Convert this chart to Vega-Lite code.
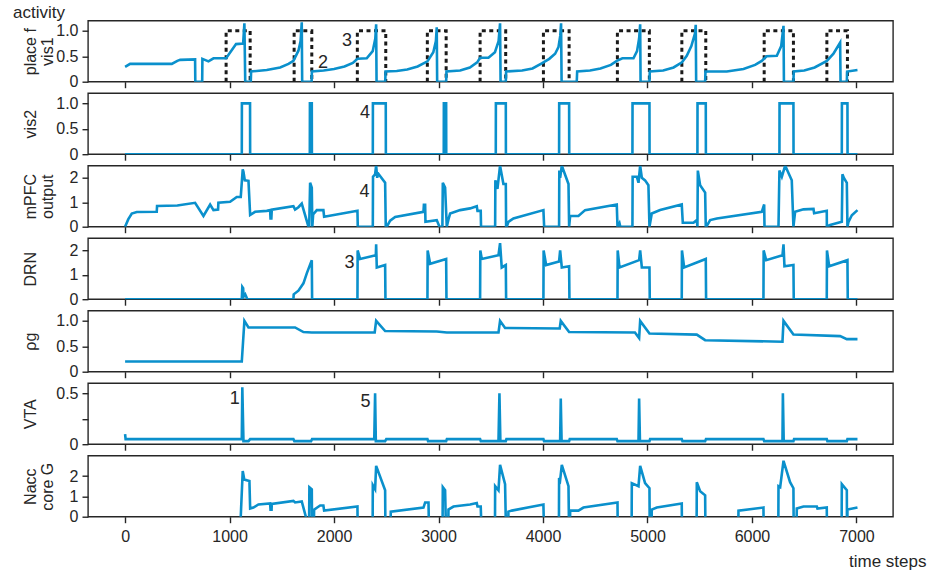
{
"$schema": "https://vega.github.io/schema/vega-lite/v6.json",
"autosize": "none",
"bounds": "flush",
"padding": {"left": 88, "top": 20.7, "right": 839, "bottom": 552.3},
"background": "white",
"config": {
  "font": "Liberation Sans",
  "view": {"stroke": "#262626", "strokeWidth": 1.4},
  "axis": {"grid": false, "domain": false, "tickColor": "#262626", "tickWidth": 1.4, "tickSize": 6, "labelFont": "Liberation Sans", "labelFontSize": 16, "labelColor": "#262626", "labelPadding": 4, "titleFont": "Liberation Sans", "titleFontSize": 16, "titleFontWeight": "normal", "titleColor": "#262626"},
  "axisY": {"titleAngle": -90, "titleX": -58, "titleY": 30.5, "titleAlign": "center", "titleBaseline": "middle", "titleLineHeight": 17},
  "line": {"color": "#0a90cc", "strokeWidth": 2.6},
  "text": {"fontSize": 18, "color": "#262626", "font": "Liberation Sans"}
},
"datasets": {
"vis1": [{"t":0,"v":0.29},{"t":48,"v":0.35},{"t":447,"v":0.35},{"t":500,"v":0.41},{"t":527,"v":0.43},{"t":670,"v":0.44},{"t":672,"v":0},{"t":738,"v":0},{"t":740,"v":0.45},{"t":798,"v":0.4},{"t":846,"v":0.46},{"t":967,"v":0.46},{"t":1062,"v":0.74},{"t":1130,"v":0.75},{"t":1142,"v":1.15},{"t":1150,"v":0},{"t":1203,"v":0},{"t":1206,"v":0.2},{"t":1356,"v":0.23},{"t":1484,"v":0.28},{"t":1564,"v":0.35},{"t":1611,"v":0.41},{"t":1659,"v":0.61},{"t":1680,"v":0.8},{"t":1691,"v":1.17},{"t":1695,"v":0},{"t":1785,"v":0},{"t":1788,"v":0.2},{"t":1900,"v":0.22},{"t":2000,"v":0.25},{"t":2100,"v":0.3},{"t":2180,"v":0.37},{"t":2224,"v":0.45},{"t":2313,"v":0.46},{"t":2370,"v":0.6},{"t":2395,"v":0.85},{"t":2403,"v":1.13},{"t":2407,"v":0},{"t":2490,"v":0},{"t":2493,"v":0.2},{"t":2600,"v":0.21},{"t":2700,"v":0.24},{"t":2800,"v":0.3},{"t":2894,"v":0.4},{"t":2950,"v":0.58},{"t":2975,"v":0.8},{"t":2983,"v":1.07},{"t":2987,"v":0},{"t":3073,"v":0},{"t":3076,"v":0.2},{"t":3207,"v":0.22},{"t":3300,"v":0.28},{"t":3370,"v":0.38},{"t":3398,"v":0.47},{"t":3478,"v":0.47},{"t":3540,"v":0.58},{"t":3575,"v":0.8},{"t":3589,"v":1.15},{"t":3594,"v":0},{"t":3644,"v":0},{"t":3647,"v":0.2},{"t":3800,"v":0.22},{"t":3900,"v":0.26},{"t":3988,"v":0.36},{"t":4060,"v":0.45},{"t":4116,"v":0.55},{"t":4148,"v":0.68},{"t":4165,"v":0.9},{"t":4173,"v":1.15},{"t":4178,"v":0},{"t":4323,"v":0},{"t":4327,"v":0.2},{"t":4450,"v":0.22},{"t":4550,"v":0.26},{"t":4650,"v":0.33},{"t":4706,"v":0.41},{"t":4760,"v":0.46},{"t":4866,"v":0.46},{"t":4900,"v":0.6},{"t":4920,"v":0.85},{"t":4930,"v":1.13},{"t":4934,"v":0},{"t":5019,"v":0},{"t":5022,"v":0.2},{"t":5150,"v":0.22},{"t":5250,"v":0.28},{"t":5330,"v":0.38},{"t":5376,"v":0.51},{"t":5420,"v":0.7},{"t":5455,"v":0.95},{"t":5462,"v":1.12},{"t":5466,"v":0},{"t":5552,"v":0},{"t":5555,"v":0.2},{"t":5759,"v":0.2},{"t":5919,"v":0.25},{"t":6030,"v":0.33},{"t":6094,"v":0.41},{"t":6140,"v":0.5},{"t":6238,"v":0.51},{"t":6280,"v":0.7},{"t":6302,"v":1.1},{"t":6306,"v":0},{"t":6397,"v":0},{"t":6400,"v":0.2},{"t":6500,"v":0.22},{"t":6600,"v":0.28},{"t":6717,"v":0.41},{"t":6780,"v":0.55},{"t":6844,"v":0.77},{"t":6848,"v":0},{"t":6908,"v":0},{"t":6911,"v":0.2},{"t":7010,"v":0.23}],
"vis2": [{"t":0,"v":0},{"t":1117,"v":0},{"t":1118,"v":1},{"t":1196,"v":1},{"t":1197,"v":0},{"t":1768,"v":0},{"t":1769,"v":1},{"t":1787,"v":1},{"t":1788,"v":0},{"t":2371,"v":0},{"t":2372,"v":1},{"t":2495,"v":1},{"t":2496,"v":0},{"t":3050,"v":0},{"t":3051,"v":1},{"t":3073,"v":1},{"t":3074,"v":0},{"t":3548,"v":0},{"t":3549,"v":1},{"t":3644,"v":1},{"t":3645,"v":0},{"t":4154,"v":0},{"t":4155,"v":1},{"t":4250,"v":1},{"t":4251,"v":0},{"t":4856,"v":0},{"t":4857,"v":1},{"t":5019,"v":1},{"t":5020,"v":0},{"t":5478,"v":0},{"t":5479,"v":1},{"t":5558,"v":1},{"t":5559,"v":0},{"t":6263,"v":0},{"t":6264,"v":1},{"t":6397,"v":1},{"t":6398,"v":0},{"t":6860,"v":0},{"t":6861,"v":1},{"t":6914,"v":1},{"t":6915,"v":0},{"t":7010,"v":0}],
"mpfc": [{"t":0,"v":0},{"t":30,"v":0.3},{"t":64,"v":0.54},{"t":112,"v":0.6},{"t":303,"v":0.61},{"t":306,"v":0.85},{"t":500,"v":0.87},{"t":670,"v":0.98},{"t":750,"v":0.44},{"t":814,"v":0.91},{"t":846,"v":0.68},{"t":890,"v":0.7},{"t":893,"v":0.98},{"t":1005,"v":1.02},{"t":1069,"v":1.22},{"t":1107,"v":1.22},{"t":1126,"v":2.35},{"t":1133,"v":2.25},{"t":1146,"v":1.9},{"t":1181,"v":1.88},{"t":1197,"v":0.48},{"t":1244,"v":0.61},{"t":1356,"v":0.65},{"t":1388,"v":0.68},{"t":1392,"v":0.34},{"t":1400,"v":0.34},{"t":1404,"v":0.7},{"t":1611,"v":0.84},{"t":1627,"v":0.7},{"t":1659,"v":0.8},{"t":1691,"v":0.95},{"t":1755,"v":0},{"t":1762,"v":0},{"t":1771,"v":1.8},{"t":1787,"v":1.6},{"t":1792,"v":0},{"t":1800,"v":0.5},{"t":1835,"v":0.68},{"t":1898,"v":0.68},{"t":1905,"v":0.41},{"t":2224,"v":0.65},{"t":2227,"v":0},{"t":2371,"v":0},{"t":2373,"v":2.05},{"t":2393,"v":2.15},{"t":2403,"v":2.5},{"t":2413,"v":2.0},{"t":2419,"v":2.2},{"t":2489,"v":1.8},{"t":2495,"v":0},{"t":2505,"v":0},{"t":2537,"v":0.25},{"t":2585,"v":0.4},{"t":2856,"v":0.61},{"t":2860,"v":0.9},{"t":2872,"v":0.9},{"t":2875,"v":0.2},{"t":2983,"v":0.27},{"t":3009,"v":0},{"t":3037,"v":0},{"t":3041,"v":1.8},{"t":3063,"v":1.6},{"t":3079,"v":0},{"t":3095,"v":0.3},{"t":3111,"v":0.54},{"t":3207,"v":0.68},{"t":3302,"v":0.75},{"t":3366,"v":0.84},{"t":3373,"v":0.65},{"t":3404,"v":0.65},{"t":3407,"v":0},{"t":3542,"v":0},{"t":3544,"v":1.9},{"t":3564,"v":1.55},{"t":3589,"v":2.5},{"t":3621,"v":1.75},{"t":3644,"v":1.75},{"t":3647,"v":0},{"t":3653,"v":0},{"t":3669,"v":0.2},{"t":3717,"v":0.34},{"t":4004,"v":0.68},{"t":4011,"v":0},{"t":4154,"v":0},{"t":4156,"v":2.3},{"t":4164,"v":2.0},{"t":4180,"v":2.5},{"t":4244,"v":1.75},{"t":4250,"v":0},{"t":4260,"v":0.44},{"t":4339,"v":0.44},{"t":4403,"v":0.68},{"t":4706,"v":0.91},{"t":4713,"v":0},{"t":4732,"v":0.15},{"t":4740,"v":0},{"t":4856,"v":0},{"t":4858,"v":2.05},{"t":4898,"v":2.05},{"t":4914,"v":1.8},{"t":4930,"v":2.5},{"t":4946,"v":2.0},{"t":4977,"v":1.9},{"t":5009,"v":1.7},{"t":5019,"v":0},{"t":5041,"v":0.54},{"t":5121,"v":0.68},{"t":5328,"v":0.91},{"t":5338,"v":0.16},{"t":5440,"v":0.16},{"t":5472,"v":0.27},{"t":5478,"v":0},{"t":5482,"v":2.3},{"t":5504,"v":1.7},{"t":5552,"v":1.4},{"t":5558,"v":0},{"t":5568,"v":0.03},{"t":5600,"v":0.27},{"t":5664,"v":0.34},{"t":6094,"v":0.61},{"t":6117,"v":0.91},{"t":6120,"v":0},{"t":6254,"v":0},{"t":6263,"v":2.3},{"t":6286,"v":2.05},{"t":6318,"v":2.5},{"t":6381,"v":1.9},{"t":6397,"v":0},{"t":6413,"v":0.61},{"t":6493,"v":0.71},{"t":6589,"v":0.73},{"t":6595,"v":0.55},{"t":6716,"v":0.65},{"t":6717,"v":0},{"t":6748,"v":0.07},{"t":6860,"v":0.2},{"t":6866,"v":2.15},{"t":6880,"v":2.0},{"t":6908,"v":1.8},{"t":6914,"v":0},{"t":6924,"v":0.2},{"t":6956,"v":0.47},{"t":7010,"v":0.68}],
"drn": [{"t":0,"v":0},{"t":1117,"v":0},{"t":1122,"v":0.5},{"t":1130,"v":0.45},{"t":1134,"v":0.1},{"t":1150,"v":0.2},{"t":1160,"v":0.1},{"t":1170,"v":0},{"t":1611,"v":0},{"t":1614,"v":0.2},{"t":1659,"v":0.35},{"t":1707,"v":0.65},{"t":1739,"v":1.06},{"t":1787,"v":1.6},{"t":1790,"v":0},{"t":2224,"v":0},{"t":2226,"v":2.0},{"t":2249,"v":1.65},{"t":2400,"v":1.8},{"t":2403,"v":2.25},{"t":2409,"v":1.3},{"t":2489,"v":1.4},{"t":2492,"v":0},{"t":2894,"v":0},{"t":2896,"v":2.0},{"t":2920,"v":1.45},{"t":3073,"v":1.65},{"t":3076,"v":0},{"t":3398,"v":0},{"t":3400,"v":2.0},{"t":3414,"v":1.65},{"t":3574,"v":1.8},{"t":3589,"v":2.3},{"t":3605,"v":1.3},{"t":3644,"v":1.4},{"t":3647,"v":0},{"t":4004,"v":0},{"t":4006,"v":2.0},{"t":4030,"v":1.4},{"t":4154,"v":1.55},{"t":4164,"v":2.0},{"t":4180,"v":1.3},{"t":4250,"v":1.35},{"t":4253,"v":0},{"t":4713,"v":0},{"t":4715,"v":2.0},{"t":4732,"v":1.3},{"t":4920,"v":1.6},{"t":4930,"v":2.0},{"t":4946,"v":1.3},{"t":5019,"v":1.3},{"t":5022,"v":0},{"t":5328,"v":0},{"t":5330,"v":2.0},{"t":5351,"v":1.3},{"t":5558,"v":1.65},{"t":5561,"v":0},{"t":6110,"v":0},{"t":6112,"v":2.0},{"t":6136,"v":1.6},{"t":6292,"v":1.8},{"t":6302,"v":2.25},{"t":6311,"v":1.35},{"t":6397,"v":1.4},{"t":6400,"v":0},{"t":6716,"v":0},{"t":6718,"v":2.0},{"t":6739,"v":1.35},{"t":6914,"v":1.6},{"t":6917,"v":0},{"t":7010,"v":0}],
"rho": [{"t":0,"v":0.2},{"t":1117,"v":0.2},{"t":1142,"v":1.0},{"t":1181,"v":0.87},{"t":1627,"v":0.87},{"t":1707,"v":0.78},{"t":1787,"v":0.77},{"t":2389,"v":0.77},{"t":2403,"v":1.0},{"t":2489,"v":0.8},{"t":2983,"v":0.79},{"t":3079,"v":0.77},{"t":3574,"v":0.77},{"t":3589,"v":1.0},{"t":3637,"v":0.86},{"t":4160,"v":0.85},{"t":4170,"v":1.0},{"t":4250,"v":0.78},{"t":4880,"v":0.77},{"t":4920,"v":0.66},{"t":4930,"v":1.0},{"t":5019,"v":0.75},{"t":5472,"v":0.73},{"t":5552,"v":0.62},{"t":6292,"v":0.59},{"t":6302,"v":1.0},{"t":6397,"v":0.73},{"t":6844,"v":0.7},{"t":6908,"v":0.64},{"t":7010,"v":0.64}],
"vta": [{"t":0,"v":0.1},{"t":5,"v":0.05},{"t":1117,"v":0.05},{"t":1122,"v":0.56},{"t":1133,"v":0.03},{"t":1181,"v":0.03},{"t":1197,"v":0.05},{"t":1611,"v":0.05},{"t":1620,"v":0.03},{"t":1780,"v":0.03},{"t":1790,"v":0.05},{"t":2385,"v":0.05},{"t":2393,"v":0.5},{"t":2400,"v":0.03},{"t":2489,"v":0.03},{"t":2500,"v":0.05},{"t":2894,"v":0.05},{"t":2900,"v":0.03},{"t":3073,"v":0.03},{"t":3080,"v":0.05},{"t":3398,"v":0.05},{"t":3405,"v":0.03},{"t":3574,"v":0.03},{"t":3583,"v":0.5},{"t":3592,"v":0.03},{"t":3644,"v":0.03},{"t":3650,"v":0.05},{"t":4004,"v":0.05},{"t":4010,"v":0.03},{"t":4164,"v":0.03},{"t":4170,"v":0.45},{"t":4178,"v":0.03},{"t":4250,"v":0.03},{"t":4256,"v":0.05},{"t":4706,"v":0.05},{"t":4713,"v":0.03},{"t":4914,"v":0.03},{"t":4920,"v":0.45},{"t":4928,"v":0.03},{"t":5019,"v":0.03},{"t":5025,"v":0.05},{"t":5328,"v":0.05},{"t":5335,"v":0.03},{"t":5552,"v":0.03},{"t":5560,"v":0.05},{"t":6110,"v":0.05},{"t":6117,"v":0.03},{"t":6292,"v":0.03},{"t":6296,"v":0.5},{"t":6304,"v":0.03},{"t":6397,"v":0.03},{"t":6403,"v":0.05},{"t":6716,"v":0.05},{"t":6722,"v":0.03},{"t":6908,"v":0.03},{"t":6914,"v":0.05},{"t":7010,"v":0.05}],
"nacc": [{"t":0,"v":-1},{"t":1105,"v":-1},{"t":1107,"v":0},{"t":1126,"v":2.25},{"t":1140,"v":1.85},{"t":1155,"v":1.8},{"t":1190,"v":1.75},{"t":1197,"v":0.4},{"t":1228,"v":0.45},{"t":1276,"v":0.6},{"t":1388,"v":0.65},{"t":1392,"v":0.35},{"t":1402,"v":0.35},{"t":1404,"v":0.63},{"t":1611,"v":0.78},{"t":1627,"v":0.7},{"t":1691,"v":0.75},{"t":1730,"v":0},{"t":1732,"v":-1},{"t":1760,"v":-1},{"t":1764,"v":1.45},{"t":1787,"v":1.35},{"t":1790,"v":-1},{"t":1806,"v":-1},{"t":1809,"v":0.35},{"t":1867,"v":0.55},{"t":1898,"v":0.55},{"t":1905,"v":0.3},{"t":2224,"v":0.5},{"t":2227,"v":-1},{"t":2369,"v":-1},{"t":2371,"v":1.55},{"t":2393,"v":1.35},{"t":2403,"v":2.5},{"t":2489,"v":1.3},{"t":2492,"v":-1},{"t":2540,"v":-1},{"t":2543,"v":0.25},{"t":2856,"v":0.45},{"t":2872,"v":0.7},{"t":2904,"v":0.7},{"t":2910,"v":-1},{"t":3038,"v":-1},{"t":3041,"v":1.45},{"t":3063,"v":1.3},{"t":3073,"v":-1},{"t":3093,"v":-1},{"t":3095,"v":0.35},{"t":3143,"v":0.5},{"t":3302,"v":0.6},{"t":3366,"v":0.67},{"t":3373,"v":0.5},{"t":3404,"v":0.5},{"t":3414,"v":-1},{"t":3540,"v":-1},{"t":3542,"v":1.5},{"t":3574,"v":1.3},{"t":3589,"v":2.55},{"t":3637,"v":1.6},{"t":3647,"v":-1},{"t":3666,"v":-1},{"t":3669,"v":0.25},{"t":3701,"v":0.3},{"t":4004,"v":0.6},{"t":4011,"v":-1},{"t":4152,"v":-1},{"t":4154,"v":1.9},{"t":4164,"v":1.8},{"t":4180,"v":2.55},{"t":4244,"v":1.5},{"t":4250,"v":-1},{"t":4257,"v":-1},{"t":4260,"v":0.3},{"t":4339,"v":0.3},{"t":4387,"v":0.45},{"t":4713,"v":0.7},{"t":4716,"v":-1},{"t":4848,"v":-1},{"t":4850,"v":1.65},{"t":4914,"v":1.5},{"t":4930,"v":2.5},{"t":4977,"v":1.65},{"t":5019,"v":1.4},{"t":5022,"v":-1},{"t":5038,"v":-1},{"t":5041,"v":0.35},{"t":5089,"v":0.45},{"t":5328,"v":0.65},{"t":5331,"v":-1},{"t":5470,"v":-1},{"t":5472,"v":1.7},{"t":5504,"v":1.25},{"t":5552,"v":1.05},{"t":5555,"v":-1},{"t":5868,"v":-1},{"t":5871,"v":0.3},{"t":6110,"v":0.45},{"t":6113,"v":-1},{"t":6252,"v":-1},{"t":6254,"v":1.5},{"t":6270,"v":1.45},{"t":6302,"v":2.75},{"t":6365,"v":1.7},{"t":6397,"v":1.4},{"t":6400,"v":-1},{"t":6426,"v":-1},{"t":6429,"v":0.4},{"t":6493,"v":0.5},{"t":6621,"v":0.5},{"t":6627,"v":0.4},{"t":6716,"v":0.45},{"t":6719,"v":-1},{"t":6858,"v":-1},{"t":6860,"v":1.6},{"t":6908,"v":1.3},{"t":6910,"v":-1},{"t":6912,"v":-1},{"t":6914,"v":0.35},{"t":7010,"v":0.45}],
"boxes": [{"b":1,"t":967,"v":0},{"b":1,"t":967,"v":1},{"b":1,"t":1197,"v":1},{"b":1,"t":1197,"v":0},{"b":2,"t":1618,"v":0},{"b":2,"t":1618,"v":1},{"b":2,"t":1787,"v":1},{"b":2,"t":1787,"v":0},{"b":3,"t":2223,"v":0},{"b":3,"t":2223,"v":1},{"b":3,"t":2495,"v":1},{"b":3,"t":2495,"v":0},{"b":4,"t":2893,"v":0},{"b":4,"t":2893,"v":1},{"b":4,"t":3073,"v":1},{"b":4,"t":3073,"v":0},{"b":5,"t":3398,"v":0},{"b":5,"t":3398,"v":1},{"b":5,"t":3643,"v":1},{"b":5,"t":3643,"v":0},{"b":6,"t":4004,"v":0},{"b":6,"t":4004,"v":1},{"b":6,"t":4250,"v":1},{"b":6,"t":4250,"v":0},{"b":7,"t":4712,"v":0},{"b":7,"t":4712,"v":1},{"b":7,"t":5018,"v":1},{"b":7,"t":5018,"v":0},{"b":8,"t":5329,"v":0},{"b":8,"t":5329,"v":1},{"b":8,"t":5558,"v":1},{"b":8,"t":5558,"v":0},{"b":9,"t":6117,"v":0},{"b":9,"t":6117,"v":1},{"b":9,"t":6397,"v":1},{"b":9,"t":6397,"v":0},{"b":10,"t":6717,"v":0},{"b":10,"t":6717,"v":1},{"b":10,"t":6914,"v":1},{"b":10,"t":6914,"v":0}],
"labels": [{"p":"vis1","t":1895,"v":0.37,"label":"2"},{"p":"vis1","t":2125,"v":0.8,"label":"3"},{"p":"vis2","t":2297,"v":0.81,"label":"4"},{"p":"mpfc","t":2291,"v":1.43,"label":"4"},{"p":"drn","t":2147,"v":1.49,"label":"3"},{"p":"vta","t":1050,"v":0.44,"label":"1"},{"p":"vta","t":2302,"v":0.42,"label":"5"}]
},
"vconcat": [
{
 "width": 805, "height": 61,
 "title": {"text": "activity", "anchor": "start", "frame": "group", "dx": -75, "dy": 17, "offset": 3, "baseline": "alphabetic", "fontSize": 17, "fontWeight": "normal", "font": "Liberation Sans", "color": "#262626"},
 "encoding": {
  "x": {"field": "t", "type": "quantitative", "scale": {"domain": [-355, 7350], "nice": false, "zero": false}, "axis": {"values": [0,1000,2000,3000,4000,5000,6000,7000], "labels": false, "title": null}},
  "y": {"field": "v", "type": "quantitative", "scale": {"domain": [0, 1.2], "nice": false}, "axis": {"values": [0, 0.5, 1], "labelExpr": "datum.value == 0 ? '0' : format(datum.value, '.1f')", "title": ["place f", "vis1"]}}
 },
 "layer": [
  {"data": {"name": "boxes"}, "mark": {"type": "line", "color": "#1a1a1a", "strokeWidth": 3, "strokeDash": [4, 3.5], "clip": true},
   "encoding": {"detail": {"field": "b"}, "order": {"value": null}}},
  {"data": {"name": "vis1"}, "mark": {"type": "line", "clip": true}, "encoding": {"order": {"value": null}}},
  {"data": {"name": "labels"}, "transform": [{"filter": "datum.p == 'vis1'"}], "mark": {"type": "text"}, "encoding": {"text": {"field": "label"}}}
 ]
},
{
 "width": 805, "height": 61,
 "encoding": {
  "x": {"field": "t", "type": "quantitative", "scale": {"domain": [-355, 7350], "nice": false, "zero": false}, "axis": {"values": [0,1000,2000,3000,4000,5000,6000,7000], "labels": false, "title": null}},
  "y": {"field": "v", "type": "quantitative", "scale": {"domain": [0, 1.2], "nice": false}, "axis": {"values": [0, 0.5, 1], "labelExpr": "datum.value == 0 ? '0' : format(datum.value, '.1f')", "title": "vis2"}}
 },
 "layer": [
  {"data": {"name": "vis2"}, "mark": {"type": "line", "clip": true}, "encoding": {"order": {"value": null}}},
  {"data": {"name": "labels"}, "transform": [{"filter": "datum.p == 'vis2'"}], "mark": {"type": "text"}, "encoding": {"text": {"field": "label"}}}
 ]
},
{
 "width": 805, "height": 61,
 "encoding": {
  "x": {"field": "t", "type": "quantitative", "scale": {"domain": [-355, 7350], "nice": false, "zero": false}, "axis": {"values": [0,1000,2000,3000,4000,5000,6000,7000], "labels": false, "title": null}},
  "y": {"field": "v", "type": "quantitative", "scale": {"domain": [0, 2.5], "nice": false}, "axis": {"values": [0, 1, 2], "title": ["mPFC", "output"]}}
 },
 "layer": [
  {"data": {"name": "mpfc"}, "mark": {"type": "line", "clip": true}, "encoding": {"order": {"value": null}}},
  {"data": {"name": "labels"}, "transform": [{"filter": "datum.p == 'mpfc'"}], "mark": {"type": "text"}, "encoding": {"text": {"field": "label"}}}
 ]
},
{
 "width": 805, "height": 61,
 "encoding": {
  "x": {"field": "t", "type": "quantitative", "scale": {"domain": [-355, 7350], "nice": false, "zero": false}, "axis": {"values": [0,1000,2000,3000,4000,5000,6000,7000], "labels": false, "title": null}},
  "y": {"field": "v", "type": "quantitative", "scale": {"domain": [0, 2.5], "nice": false}, "axis": {"values": [0, 1, 2], "title": "DRN"}}
 },
 "layer": [
  {"data": {"name": "drn"}, "mark": {"type": "line", "clip": true}, "encoding": {"order": {"value": null}}},
  {"data": {"name": "labels"}, "transform": [{"filter": "datum.p == 'drn'"}], "mark": {"type": "text"}, "encoding": {"text": {"field": "label"}}}
 ]
},
{
 "width": 805, "height": 61,
 "encoding": {
  "x": {"field": "t", "type": "quantitative", "scale": {"domain": [-355, 7350], "nice": false, "zero": false}, "axis": {"values": [0,1000,2000,3000,4000,5000,6000,7000], "labels": false, "title": null}},
  "y": {"field": "v", "type": "quantitative", "scale": {"domain": [0, 1.2], "nice": false}, "axis": {"values": [0, 0.5, 1], "labelExpr": "datum.value == 0 ? '0' : format(datum.value, '.1f')", "title": "ρg"}}
 },
 "layer": [
  {"data": {"name": "rho"}, "mark": {"type": "line", "clip": true}, "encoding": {"order": {"value": null}}}
 ]
},
{
 "width": 805, "height": 61,
 "encoding": {
  "x": {"field": "t", "type": "quantitative", "scale": {"domain": [-355, 7350], "nice": false, "zero": false}, "axis": {"values": [0,1000,2000,3000,4000,5000,6000,7000], "labels": false, "title": null}},
  "y": {"field": "v", "type": "quantitative", "scale": {"domain": [0, 0.6], "nice": false}, "axis": {"values": [0, 0.25, 0.5], "labelExpr": "datum.value == 0 ? '0' : datum.value == 0.5 ? '0.5' : ''", "title": "VTA"}}
 },
 "layer": [
  {"data": {"name": "vta"}, "mark": {"type": "line", "clip": true}, "encoding": {"order": {"value": null}}},
  {"data": {"name": "labels"}, "transform": [{"filter": "datum.p == 'vta'"}], "mark": {"type": "text"}, "encoding": {"text": {"field": "label"}}}
 ]
},
{
 "width": 805, "height": 61,
 "encoding": {
  "x": {"field": "t", "type": "quantitative", "scale": {"domain": [-355, 7350], "nice": false, "zero": false}, "axis": {"values": [0,1000,2000,3000,4000,5000,6000,7000], "format": "d", "labelPadding": 6, "title": "time steps", "titleFontSize": 17, "titleX": 838, "titleY": 50, "titleAlign": "right", "titleBaseline": "alphabetic", "titleAnchor": null}},
  "y": {"field": "v", "type": "quantitative", "scale": {"domain": [0, 3], "nice": false}, "axis": {"values": [0, 1, 2], "title": ["Nacc", "core G"]}}
 },
 "layer": [
  {"data": {"name": "nacc"}, "mark": {"type": "line", "clip": true}, "encoding": {"order": {"value": null}}}
 ]
}
],
"spacing": 11.5
}
